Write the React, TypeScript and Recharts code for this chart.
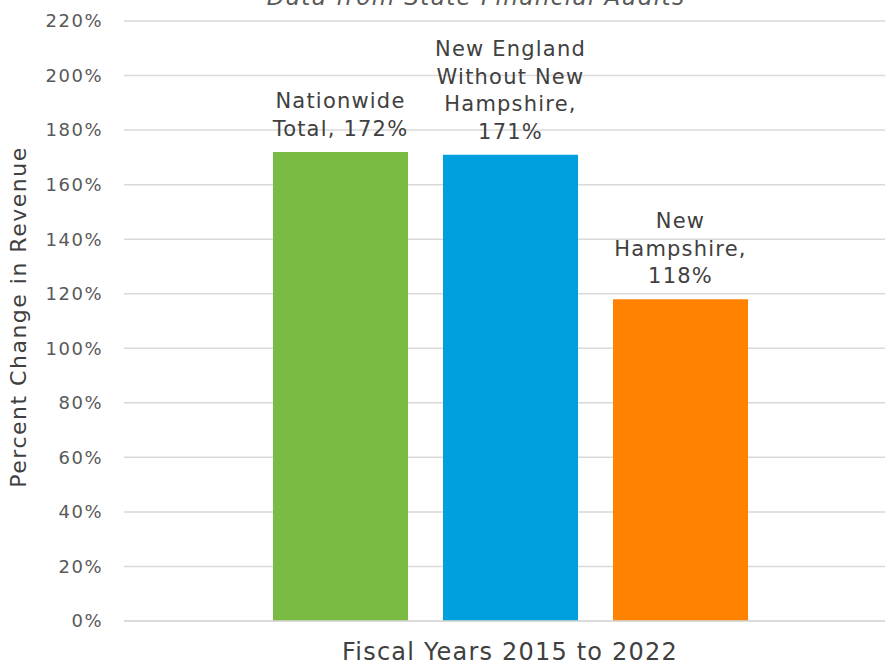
import { BarChart, Bar, XAxis, YAxis, CartesianGrid, LabelList } from "recharts";

const categories = ["Fiscal Years 2015 to 2022"];
const seriesNames = [
  "Nationwide Total",
  "New England Without New Hampshire",
  "New Hampshire",
];
const nationwide = [172];
const newEngland = [171];
const newHampshire = [118];
const labelLines = [
  ["Nationwide", "Total, 172%"],
  ["New England", "Without New", "Hampshire,", "171%"],
  ["New", "Hampshire,", "118%"],
];
const yTicks = [0, 20, 40, 60, 80, 100, 120, 140, 160, 180, 200, 220];

const COLORS = ["#7ABC43", "#00A0DF", "#FF8200"];
const FONT = "'DejaVu Sans', sans-serif";
const KEYS = ["nationwide", "newEngland", "newHampshire"];

const data = categories.map((period, i) => ({
  period,
  nationwide: nationwide[i],
  newEngland: newEngland[i],
  newHampshire: newHampshire[i],
}));

function makeLabel(lines: string[]) {
  return (props: any) => {
    const { x, y, width } = props;
    const cx = Number(x) + Number(width) / 2;
    const last = Number(y) - 16;
    return (
      <text
        textAnchor="middle"
        fill="#404040"
        fontFamily={FONT}
        fontSize={21}
        letterSpacing={1.2}
      >
        {lines.map((line, i) => (
          <tspan key={i} x={cx} y={last - (lines.length - 1 - i) * 27.5}>
            {line}
          </tspan>
        ))}
      </text>
    );
  };
}

export default function App() {
  return (
    <div
      style={{
        position: "absolute",
        left: 0,
        top: 0,
        width: 885,
        height: 664,
        background: "#fff",
        overflow: "hidden",
      }}
    >
      <div
        style={{
          position: "absolute",
          left: 0,
          width: 952,
          top: -16,
          lineHeight: "26px",
          textAlign: "center",
          fontFamily: FONT,
          fontStyle: "italic",
          fontSize: 23,
          letterSpacing: 1.4,
          color: "#595959",
          whiteSpace: "nowrap",
        }}
      >
        Data from State Financial Audits
      </div>
      <BarChart
        width={885}
        height={664}
        data={data}
        margin={{ top: 21, right: 0, bottom: 0, left: 0 }}
        barGap={35}
      >
        <CartesianGrid
          vertical={false}
          stroke="#d9d9d9"
          strokeWidth={1.5}
        />
        <XAxis
          dataKey="period"
          height={43}
          padding={{ left: 11, right: 0 }}
          axisLine={{ stroke: "#d9d9d9", strokeWidth: 1.5 }}
          tickLine={false}
          tickSize={0}
          tickMargin={22}
          tick={{
            fill: "#404040",
            fontSize: 24,
            fontFamily: FONT,
            letterSpacing: 1.2,
          }}
        />
        <YAxis
          width={124}
          domain={[0, 220]}
          ticks={yTicks}
          interval={0}
          axisLine={false}
          tickLine={false}
          tickSize={0}
          tickMargin={21}
          tickFormatter={(v) => `${v}%`}
          tick={{
            fill: "#595959",
            fontSize: 18,
            fontFamily: FONT,
            letterSpacing: 1.5,
          }}
          label={{
            value: "Percent Change in Revenue",
            angle: -90,
            position: "insideLeft",
            offset: 18,
            dy: -4,
            style: {
              textAnchor: "middle",
              fill: "#404040",
              fontSize: 22,
              fontFamily: FONT,
              letterSpacing: 1.5,
            },
          }}
        />
        {KEYS.map((k, i) => (
          <Bar
            key={k}
            dataKey={k}
            name={seriesNames[i]}
            fill={COLORS[i]}
            barSize={135}
            isAnimationActive={false}
          >
            <LabelList dataKey={k} content={makeLabel(labelLines[i])} />
          </Bar>
        ))}
      </BarChart>
    </div>
  );
}
